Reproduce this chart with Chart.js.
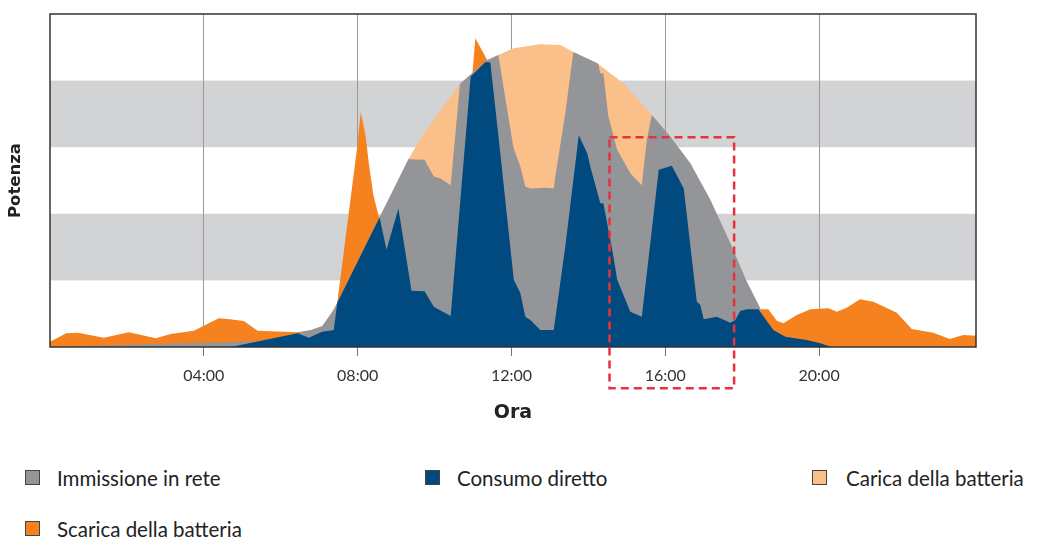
<!DOCTYPE html>
<html>
<head>
<meta charset="utf-8">
<script src="https://cdn.jsdelivr.net/npm/chart.js@4/dist/chart.umd.min.js"></script>
<style>
  body { margin: 0; background: #fff; font-family: Lato, sans-serif; }
  #wrap { position: absolute; left: 0; top: 0; width: 1037px; height: 430px; }
  .item { position: absolute; font-size: 20.5px; color: #222; line-height: 20px; white-space: nowrap; }
  .item .box { position: absolute; left: 0; top: 2px; width: 15px; height: 15px; border: 1px solid #444; box-sizing: border-box; }
  .item span.txt { position: absolute; white-space: nowrap; }
</style>
</head>
<body>
<div id="wrap"><canvas id="chart" width="1037" height="430"></canvas></div>
<div id="legend"></div>
<script>
// hours of day on x, power (arbitrary units 0..5) on y
const tickHours = [4, 8, 12, 16, 20];
const tickLabels = ['04:00', '08:00', '12:00', '16:00', '20:00'];

const directHours = [0, 4.70, 6.44, 6.73, 7.08, 7.38, 7.47, 8.57, 8.75, 9.06, 9.40, 9.74, 9.98, 10.42, 10.94, 11.32, 11.45, 11.71, 12.06, 12.23, 12.36, 12.49, 12.75, 13.10, 13.40, 13.75, 13.97, 14.05, 14.31, 14.39, 14.62, 14.75, 15.09, 15.39, 15.83, 16.17, 16.48, 16.82, 16.91, 17.00, 17.34, 17.69, 17.82, 17.95, 18.12, 18.42, 18.81, 19.12, 19.68, 20.03, 20.33, 24.08];
const directValues = [0, 0, 0.206, 0.14, 0.23, 0.255, 0.665, 1.95, 1.46, 2.08, 0.845, 0.836, 0.605, 0.465, 4.06, 4.28, 4.27, 2.91, 1.01, 0.81, 0.455, 0.405, 0.255, 0.255, 1.51, 3.18, 2.91, 2.71, 2.16, 2.16, 1.46, 1.01, 0.53, 0.455, 2.66, 2.72, 2.38, 0.68, 0.63, 0.416, 0.455, 0.365, 0.405, 0.54, 0.566, 0.566, 0.255, 0.155, 0.105, 0.056, 0, 0];

const feedInHours = [0, 6.30, 6.44, 6.78, 7.08, 7.38, 7.47, 9.32, 9.74, 9.98, 10.16, 10.42, 10.66, 10.68, 11.37, 11.66, 11.79, 12.05, 12.23, 12.36, 12.49, 12.93, 13.10, 13.14, 13.40, 13.61, 14.23, 14.26, 14.31, 14.39, 14.52, 14.75, 15.09, 15.39, 15.52, 15.65, 16.13, 16.65, 17.17, 17.69, 18.12, 18.47, 18.60, 24.08];
const feedInValues = [0, 0.1, 0.22, 0.255, 0.315, 0.556, 0.665, 2.82, 2.81, 2.56, 2.53, 2.43, 3.945, 3.96, 4.31, 4.385, 3.91, 3.0, 2.71, 2.41, 2.38, 2.39, 2.38, 2.56, 3.51, 4.43, 4.26, 4.247, 4.11, 4.11, 3.46, 2.96, 2.61, 2.43, 3.11, 3.483, 3.16, 2.76, 2.21, 1.56, 0.98, 0.58, 0, 0];

const chargeHours = [0, 6.40, 7.08, 7.47, 9.32, 9.64, 10.16, 10.68, 11.37, 12.05, 12.75, 13.27, 13.61, 14.23, 14.91, 15.61, 16.13, 16.65, 17.17, 17.69, 18.12, 18.47, 18.60, 24.08];
const chargeValues = [0, 0, 0.3, 0.665, 2.82, 3.13, 3.56, 3.96, 4.31, 4.485, 4.545, 4.535, 4.43, 4.26, 3.96, 3.51, 3.16, 2.76, 2.21, 1.56, 0.98, 0.58, 0, 0];

const dischargeHours = [0, 0.05, 0.42, 0.73, 1.40, 2.05, 2.75, 3.14, 3.74, 4.39, 4.62, 5.04, 5.40, 6.44, 7.04, 7.38, 7.47, 7.99, 8.08, 8.21, 8.29, 8.41, 8.55, 8.70, 10.16, 10.95, 11.06, 11.37, 11.50, 11.71, 17.70, 17.95, 18.42, 18.68, 18.90, 19.07, 19.42, 19.77, 20.24, 20.46, 20.72, 21.06, 21.41, 22.02, 22.41, 22.97, 23.40, 23.75, 24.08];
const dischargeValues = [0.08, 0.095, 0.206, 0.215, 0.14, 0.22, 0.13, 0.195, 0.245, 0.43, 0.42, 0.39, 0.245, 0.22, 0.16, 0.25, 0.665, 3.01, 3.53, 3.16, 2.76, 2.28, 1.96, 1.0, 2.2, 3.86, 4.635, 4.31, 3.4, 0, 0, 0.405, 0.566, 0.566, 0.395, 0.356, 0.48, 0.566, 0.58, 0.53, 0.59, 0.716, 0.68, 0.515, 0.27, 0.215, 0.12, 0.18, 0.17];

const bands = [[1, 2], [3, 4]];
const highlight = { from: 14.55, to: 17.79, top: 3.15, bottom: -0.62 };

const series = [
    { label: 'Immissione in rete', hours: feedInHours, values: feedInValues, color: '#939598', order: 2 },
    { label: 'Consumo diretto', hours: directHours, values: directValues, color: '#004a7f', order: 1 },
    { label: 'Carica della batteria', hours: chargeHours, values: chargeValues, color: '#fbbf8a', order: 3 },
    { label: 'Scarica della batteria', hours: dischargeHours, values: dischargeValues, color: '#f5821f', order: 4 }
];

// html legend, laid out like the original grid
const legendSpots = [[25, 468], [425, 468], [812, 468], [25, 519]];
const legend = document.getElementById('legend');
series.forEach((s, i) => {
    const el = document.createElement('div');
    el.className = 'item';
    el.style.left = legendSpots[i][0] + 'px';
    el.style.top = legendSpots[i][1] + 'px';
    el.innerHTML = '<div class="box" style="background:' + s.color + '"></div><span class="txt" style="left:' + (i === 2 ? 34 : 32) + 'px">' + s.label + '</span>';
    legend.appendChild(el);
});

const backdrop = {
    id: 'backdrop',
    beforeDraw(chart) {
        const { ctx, chartArea: a, scales: { y } } = chart;
        ctx.save();
        ctx.fillStyle = '#d1d3d4';
        bands.forEach(b => {
            const top = y.getPixelForValue(b[1]);
            const bottom = y.getPixelForValue(b[0]);
            ctx.fillRect(a.left, top, a.right - a.left, bottom - top);
        });
        ctx.restore();
    },
    afterDatasetsDraw(chart) {
        const { ctx, chartArea: a } = chart;
        ctx.save();
        ctx.strokeStyle = '#333';
        ctx.lineWidth = 1.5;
        ctx.strokeRect(a.left, a.top, a.right - a.left, a.bottom - a.top);
        ctx.restore();
    },
    afterDraw(chart) {
        const { ctx, scales: { x, y } } = chart;
        const l = x.getPixelForValue(highlight.from);
        const r = x.getPixelForValue(highlight.to);
        const t = y.getPixelForValue(highlight.top);
        const b = y.getPixelForValue(highlight.bottom);
        ctx.save();
        ctx.strokeStyle = '#e5323b';
        ctx.lineWidth = 2.5;
        ctx.setLineDash([8, 5]);
        ctx.strokeRect(l, t, r - l, b - t);
        ctx.restore();
    }
};

Chart.defaults.font.family = 'Lato, sans-serif';

new Chart(document.getElementById('chart'), {
    type: 'line',
    data: {
        datasets: series.map(s => ({
            label: s.label,
            data: s.hours.map((h, i) => ({ x: h, y: s.values[i] })),
            backgroundColor: s.color,
            borderColor: s.color,
            borderWidth: 0,
            pointRadius: 0,
            tension: 0,
            fill: 'origin',
            order: s.order
        }))
    },
    options: {
        responsive: false,
        animation: false,
        devicePixelRatio: 1,
        layout: { padding: { top: 14, right: 61, left: 0, bottom: 0 } },
        plugins: { legend: { display: false }, tooltip: { enabled: false } },
        scales: {
            x: {
                type: 'linear',
                min: 0,
                max: 24.08,
                afterBuildTicks: axis => { axis.ticks = tickHours.map(v => ({ value: v })); },
                afterFit: axis => { axis.height = 83; },
                ticks: {
                    callback: (v, i) => tickLabels[i],
                    color: '#333',
                    font: { size: 16 },
                    padding: 10,
                    maxRotation: 0
                },
                grid: { color: '#9a9a9a', lineWidth: 1, tickLength: 9, tickColor: '#777' },
                border: { display: false },
                title: { display: true, text: 'Ora', color: '#222', font: { family: 'DejaVu Sans', size: 19, weight: 'bold' }, padding: { top: 4, bottom: 6 } }
            },
            y: {
                min: 0,
                max: 5,
                afterFit: axis => { axis.width = 50; },
                ticks: { display: false },
                grid: { display: false },
                border: { display: false },
                title: { display: true, text: 'Potenza', color: '#222', font: { family: 'DejaVu Sans', size: 16.5, weight: 'bold' }, padding: { top: 6, bottom: 4 } }
            }
        }
    },
    plugins: [backdrop]
});
</script>
</body>
</html>
